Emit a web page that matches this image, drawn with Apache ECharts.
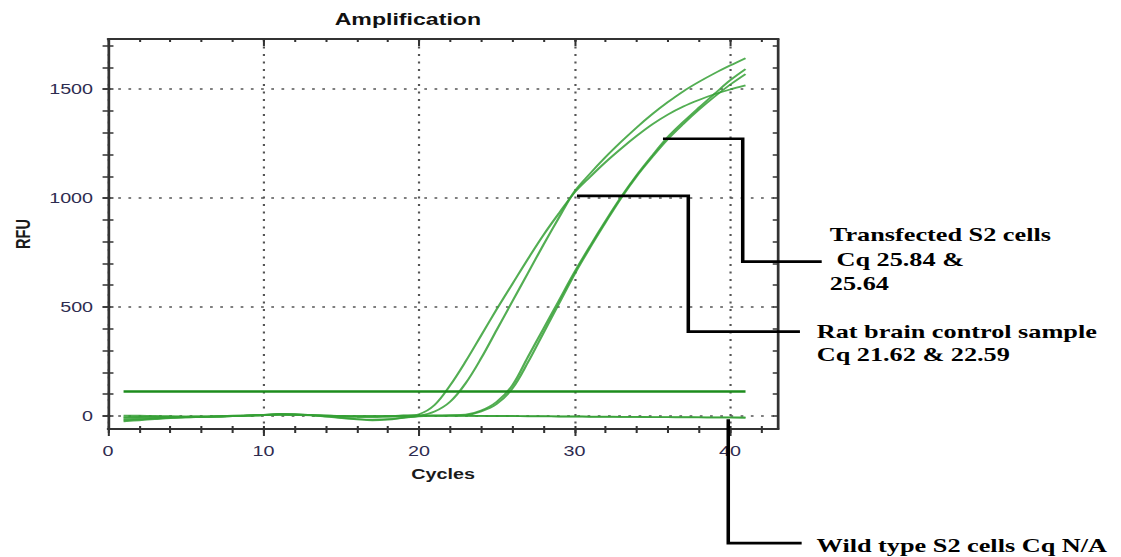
<!DOCTYPE html>
<html>
<head>
<meta charset="utf-8">
<script src="https://cdn.jsdelivr.net/npm/echarts@6/dist/echarts.min.js"></script>
<style>
html,body{margin:0;padding:0;background:#fff;overflow:hidden;}
#wrap{width:1121px;height:557px;overflow:hidden;position:relative;background:#fff;}
#chart{width:824px;height:557px;transform:scaleX(1.36044);transform-origin:0 0;}
</style>
</head>
<body>
<div id="wrap"><div id="chart"></div></div>
<script>
// ---------- data ----------
const cycles = [1,2,3,4,5,6,7,8,9,10,11,12,13,14,15,16,17,18,19,20,21,22,23,24,25,26,27,28,29,30,31,32,33,34,35,36,37,38,39,40,41];
const ratBrainA = [-5,-4,-3,-3,-4,-3,-2,0,2,5, 8,7,4,1,-1,-2,-2,-1,1,8, 50,140,250,370,490,605,720,830,930,1025, 1097,1165,1227,1285,1338,1383,1420,1450,1476,1498,1517];
const ratBrainB = [-15,-12,-9,-7,-5,-4,-3,-1,1,4, 7,6,3,-2,-8,-14,-17,-15,-8,0, 20,65,150,265,395,525,655,785,910,1030, 1112,1188,1258,1324,1385,1440,1490,1533,1572,1608,1642];
const transfectedA = [2,1,0,-1,-2,-2,-1,1,3,5, 9,8,5,2,0,-1,-1,0,1,2, 2,3,6,25,65,140,270,400,530,660, 780,895,1005,1105,1195,1280,1350,1415,1478,1540,1592];
const transfectedB = [-25,-20,-15,-10,-7,-5,-3,-1,1,4, 6,5,2,-3,-10,-16,-20,-17,-9,-2, 0,1,3,20,55,125,245,380,515,650, 772,888,1000,1100,1188,1270,1340,1405,1465,1520,1569];
const wildTypeA = [-8,-6,-5,-5,-4,-3,-2,0,2,4, 7,6,4,2,0,-1,-1,0,1,2, 2,1,1,0,0,0,-1,-1,-2,-2, -3,-3,-4,-4,-5,-5,-5,-6,-6,-6,-7];
const wildTypeB = [-20,-16,-12,-9,-7,-5,-3,-1,1,3, 5,5,3,0,-3,-5,-6,-4,-2,0, 1,1,0,0,-1,-1,-2,-2,-3,-3, -4,-4,-5,-5,-6,-6,-7,-7,-8,-8,-9];
const thresholdRFU = 112;
const xMajorTicks = [0,10,20,30,40];
const xMinorTicks = [0,2,4,6,8,10,12,14,16,18,20,22,24,26,28,30,32,34,36,38,40,42];
const yMajorTicks = [0,500,1000,1500];
const yMinorTicks = [0,100,200,300,400,500,600,700,800,900,1000,1100,1200,1300,1400,1500,1600,1700];
const xRange = [0, 43.1];
const yRange = [-60, 1730];

// annotation leaders (data coordinates) and texts
const annTransfected = {path: [[35.69,1272],[40.82,1272],[40.82,708],[45.9,708]], text: ['Transfected S2 cells', ' Cq 25.84 &', '25.64']};
const annRatBrain = {path: [[30.16,1010],[37.32,1010],[37.32,387],[44.5,387]], text: ['Rat brain control sample', 'Cq 21.62 & 22.59']};
const annWildType = {path: [[39.89,-15],[39.89,-584],[44.61,-584]], text: ['Wild type S2 cells Cq N/A']};

// ---------- layout / style ----------
const textOffsets = [
  {ann: annTransfected, dx: 6, dy: [-27, -2, 22]},
  {ann: annRatBrain, dx: 12.3, dy: [0, 23]},
  {ann: annWildType, dx: 11, dy: [2]}
];
const axisColor = '#333';
const sans = '"Liberation Sans", Arial, sans-serif';
const labelStyle = {color: '#2e2c50', fontSize: 14.5, fontFamily: sans, formatter: v => String(v)};
const gridLine = {show: true, lineStyle: {type: [2, 5.5], color: '#555', width: 1.6}};
const tickLine = {color: axisColor, width: 1.5};

function pair(vals) { return cycles.map((c, i) => [c, vals[i]]); }

function baseAxis(range, extra) {
  return Object.assign({
    type: 'value', min: range[0], max: range[1], gridIndex: 0,
    axisLine: {show: false, onZero: false},
    axisTick: {show: false},
    axisLabel: {show: false},
    splitLine: {show: false}
  }, extra);
}

function curve(name, vals) {
  return {
    name: name, type: 'line', data: pair(vals), symbol: 'none', showSymbol: false,
    smooth: 0.35, silent: true, z: 3, animation: false,
    lineStyle: {color: '#35a035', width: 1.7, opacity: 0.85}
  };
}

const option = {
  animation: false,
  backgroundColor: '#fff',
  title: {
    text: 'Amplification', left: 241, top: 6,
    textStyle: {fontSize: 17, fontWeight: 'bold', color: '#111', fontFamily: sans}
  },
  grid: {left: 79.4, right: 252, top: 39, bottom: 128, containLabel: false, outerBoundsMode: 'none'},
  xAxis: [
    baseAxis(xRange, {
      position: 'bottom',
      axisLine: {show: true, onZero: false, lineStyle: {color: axisColor, width: 2}},
      axisTick: {show: true, customValues: xMajorTicks, length: 7, lineStyle: tickLine},
      axisLabel: Object.assign({show: true, customValues: xMajorTicks, margin: 14}, labelStyle),
      splitLine: gridLine,
      name: 'Cycles', nameLocation: 'middle', nameGap: 37,
      nameTextStyle: {fontSize: 14.5, fontWeight: 'bold', color: '#1a1a1a', fontFamily: sans}
    }),
    baseAxis(xRange, {position: 'bottom', axisTick: {show: true, customValues: xMinorTicks, length: 4, lineStyle: tickLine}}),
    baseAxis(xRange, {position: 'bottom', axisTick: {show: true, inside: true, customValues: xMinorTicks, length: 3, lineStyle: tickLine}}),
    baseAxis(xRange, {position: 'top', axisLine: {show: true, onZero: false, lineStyle: {color: axisColor, width: 2}},
      axisTick: {show: true, inside: true, customValues: xMinorTicks, length: 3, lineStyle: tickLine}}),
    baseAxis(xRange, {position: 'top', axisTick: {show: true, inside: true, customValues: xMajorTicks, length: 7, lineStyle: tickLine}})
  ],
  yAxis: [
    baseAxis(yRange, {
      position: 'left',
      axisLine: {show: true, onZero: false, lineStyle: {color: axisColor, width: 2}},
      axisTick: {show: true, customValues: yMajorTicks, length: 4, lineStyle: tickLine},
      axisLabel: Object.assign({show: true, customValues: yMajorTicks, margin: 11}, labelStyle),
      splitLine: gridLine,
      name: 'RFU', nameLocation: 'middle', nameGap: 55, nameRotate: 90,
      nameTextStyle: {fontSize: 14.5, fontWeight: 'bold', color: '#1a1a1a', fontFamily: sans}
    }),
    baseAxis(yRange, {position: 'left', axisTick: {show: true, customValues: yMinorTicks, length: 4, lineStyle: tickLine}}),
    baseAxis(yRange, {position: 'left', axisTick: {show: true, inside: true, customValues: yMinorTicks, length: 4, lineStyle: tickLine}}),
    baseAxis(yRange, {position: 'right', axisLine: {show: true, onZero: false, lineStyle: {color: axisColor, width: 2}},
      axisTick: {show: true, inside: true, customValues: yMinorTicks, length: 4, lineStyle: tickLine}})
  ],
  series: [
    curve('Wild type S2 A', wildTypeA),
    curve('Wild type S2 B', wildTypeB),
    curve('Rat brain A', ratBrainA),
    curve('Rat brain B', ratBrainB),
    curve('Transfected S2 A', transfectedA),
    curve('Transfected S2 B', transfectedB),
    {
      name: 'Threshold', type: 'line', symbol: 'none', silent: true, z: 4,
      data: [[cycles[0], thresholdRFU], [cycles[cycles.length - 1], thresholdRFU]],
      lineStyle: {color: '#1d8c1d', width: 2.4}
    }
  ]
};

const chart = echarts.init(document.getElementById('chart'), null, {renderer: 'svg'});
chart.setOption(option);

const toPx = p => chart.convertToPixel({gridIndex: 0}, p);
const graphics = [];
textOffsets.forEach(o => {
  const pts = o.ann.path.map(toPx);
  graphics.push({type: 'polyline', silent: true, z: 10, shape: {points: pts},
    style: {stroke: '#000', lineWidth: 2.6, fill: null, lineJoin: 'miter'}});
  const end = pts[pts.length - 1];
  o.ann.text.forEach((t, i) => {
    graphics.push({type: 'text', silent: true, z: 10, x: end[0] + o.dx, y: end[1] + o.dy[i],
      style: {text: t, fill: '#000', fontSize: 19.3, fontWeight: 'bold',
        fontFamily: '"Liberation Serif", "Times New Roman", serif', verticalAlign: 'middle', align: 'left'}});
  });
});
chart.setOption({graphic: graphics});
</script>
</body>
</html>
